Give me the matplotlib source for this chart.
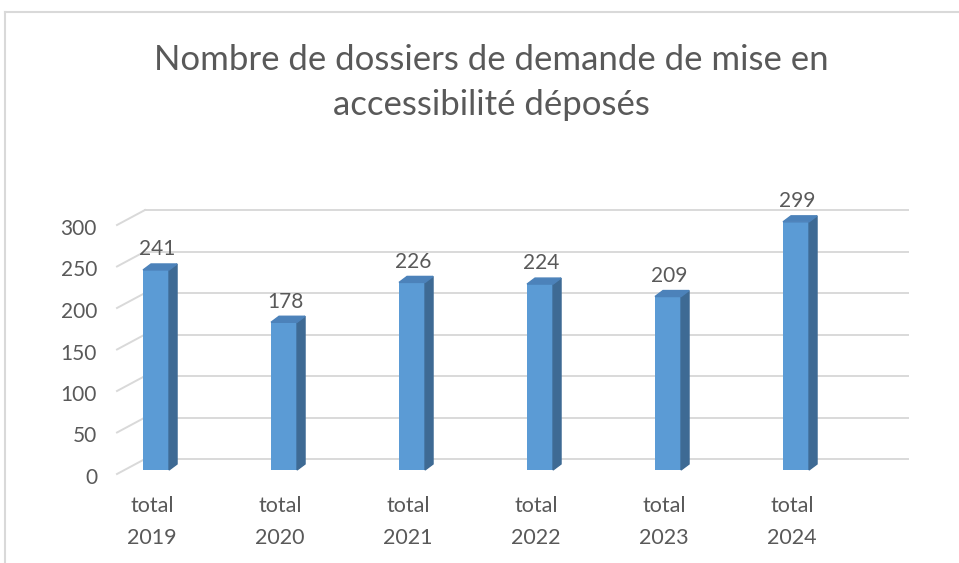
import matplotlib.pyplot as plt
from matplotlib.patches import Polygon
from matplotlib.lines import Line2D

plt.rcParams['font.family'] = ['Lato', 'DejaVu Sans']

# données
categories = ['total\n2019', 'total\n2020', 'total\n2021', 'total\n2022', 'total\n2023', 'total\n2024']
valeurs = [241, 178, 226, 224, 209, 299]
graduations = [0, 50, 100, 150, 200, 250, 300]
titre = 'Nombre de dossiers de demande de mise en\naccessibilité déposés'

gris = '#595959'
grille = '#D9D9D9'

fig = plt.figure(figsize=(9.59, 5.63), dpi=100)
# plan avant du graphique
ax = fig.add_axes([117 / 959, (563 - 474) / 563, 763 / 959, 249 / 563])
ax.set_xlim(-0.305, 5.656)
ax.set_ylim(0, 300)
ax.axis('off')

# profondeur du mur du fond (en unités de données)
px_x = 128.0          # pixels par catégorie
px_y = 249 / 300      # pixels par unité
prof_x = 28 / px_x
prof_y = 15 / px_y

x0, x1 = ax.get_xlim()
for g in graduations:
    ax.plot([x0 + prof_x, x1 + prof_x], [g + prof_y, g + prof_y], color=grille, lw=1.4, clip_on=False, zorder=1)
    ax.plot([x0, x0 + prof_x], [g, g + prof_y], color=grille, lw=1.4, clip_on=False, zorder=1)
    ax.text(x0 - 20 / px_x, g - 4 / px_y, str(g), ha='right', va='center', fontsize=15, color=gris)

# barres 3D
larg = 26 / px_x
base = 4 / px_y
cote_x = 8 / px_x
cote_y = 6 / px_y
for i, v in enumerate(valeurs):
    g, d = i - larg / 2, i + larg / 2
    h = base + v
    ax.bar(i, v, width=larg, bottom=base, color='#5B9BD5', zorder=3, clip_on=False)
    ax.add_patch(Polygon([[d, base], [d + cote_x, base + cote_y], [d + cote_x, h + cote_y], [d, h]],
                         closed=True, color='#3E6A94', zorder=3, clip_on=False))
    ax.add_patch(Polygon([[g, h], [d, h], [d + cote_x, h + cote_y], [g + cote_x, h + cote_y]],
                         closed=True, color='#4C82BA', zorder=3, clip_on=False))
    ax.text(i + 0.01, h + 25, str(v), ha='center', va='center', fontsize=15, color=gris)
    ax.text(i - 0.03, -22 / px_y, categories[i], ha='center', va='top', fontsize=15.5, color=gris,
            linespacing=1.75)

fig.text(491 / 959, 1 - 83 / 563, titre, ha='center', va='center', fontsize=25, color=gris,
         linespacing=1.5)

# cadre du graphique
fig.add_artist(Line2D([5 / 959, 1], [1 - 12 / 563, 1 - 12 / 563], color='#D9D9D9', lw=1.5))
fig.add_artist(Line2D([5 / 959, 5 / 959], [0, 1 - 12 / 563], color='#D9D9D9', lw=1.5))

fig.savefig('out.png', dpi=100)
